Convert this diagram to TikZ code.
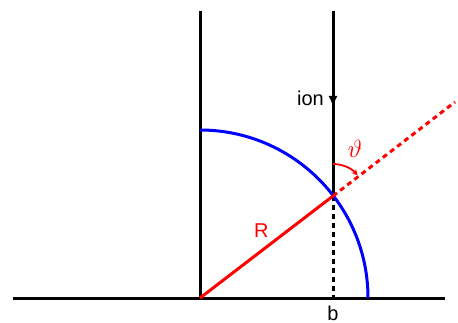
\documentclass[tikz,border=0pt]{standalone}
\usepackage{fontspec}
\setmainfont{Liberation Sans}
\usetikzlibrary{arrows.meta}

\begin{document}
\begin{tikzpicture}[x=1pt,y=-1pt,
  axis/.style={line width=3pt},
  guide/.style={line width=3pt,dash pattern=on 5pt off 4pt},
  label/.style={inner sep=0pt,font=\fontsize{20}{24}\selectfont}]
\path[use as bounding box] (0,0) rectangle (458.0,323.0);
\coordinate (O) at (200,298);
\coordinate (P) at (333,196);
\coordinate (B) at (333,298);
\coordinate (Ltop) at (200,11);
\coordinate (Itop) at (333,11);
\coordinate (Xl) at (13,298);
\coordinate (Xr) at (445,298);
\coordinate (Rend) at (455,102);
\coordinate (Aa) at (333,90);
\coordinate (Ab) at (333,107);
% axes and ion path
\draw[axis] (Xl) -- (Xr);
\draw[axis] (O) -- (Ltop);
\draw[axis] (Itop) -- (P);
\draw[guide] (P) -- (B);
\draw[axis,-{Latex[length=11pt,width=9pt]}] (Aa) -- (Ab);
% nucleus radius
\draw[blue,line width=3pt] (O) ++(0,-168) arc[start angle=-90,end angle=0,radius=168];
\draw[red,line width=3pt] (O) -- node[label,red,above left=3pt,pos=0.55] (R) {R} (P);
\draw[red,guide] (P) -- (Rend);
% scattering angle
\draw[red,line width=1.8pt,-{Stealth[length=6pt,width=6pt]}] (P) ++(0,-32) arc[start angle=-90,end angle=-40,radius=32];
\node[red,inner sep=0pt,font=\fontsize{24}{28}\selectfont] (theta) at (355,149) {$\vartheta$};
\node[label,anchor=east] (ion) at (324,98) {ion};
\node[label] (b) at (333,313) {b};
\end{tikzpicture}
\end{document}
